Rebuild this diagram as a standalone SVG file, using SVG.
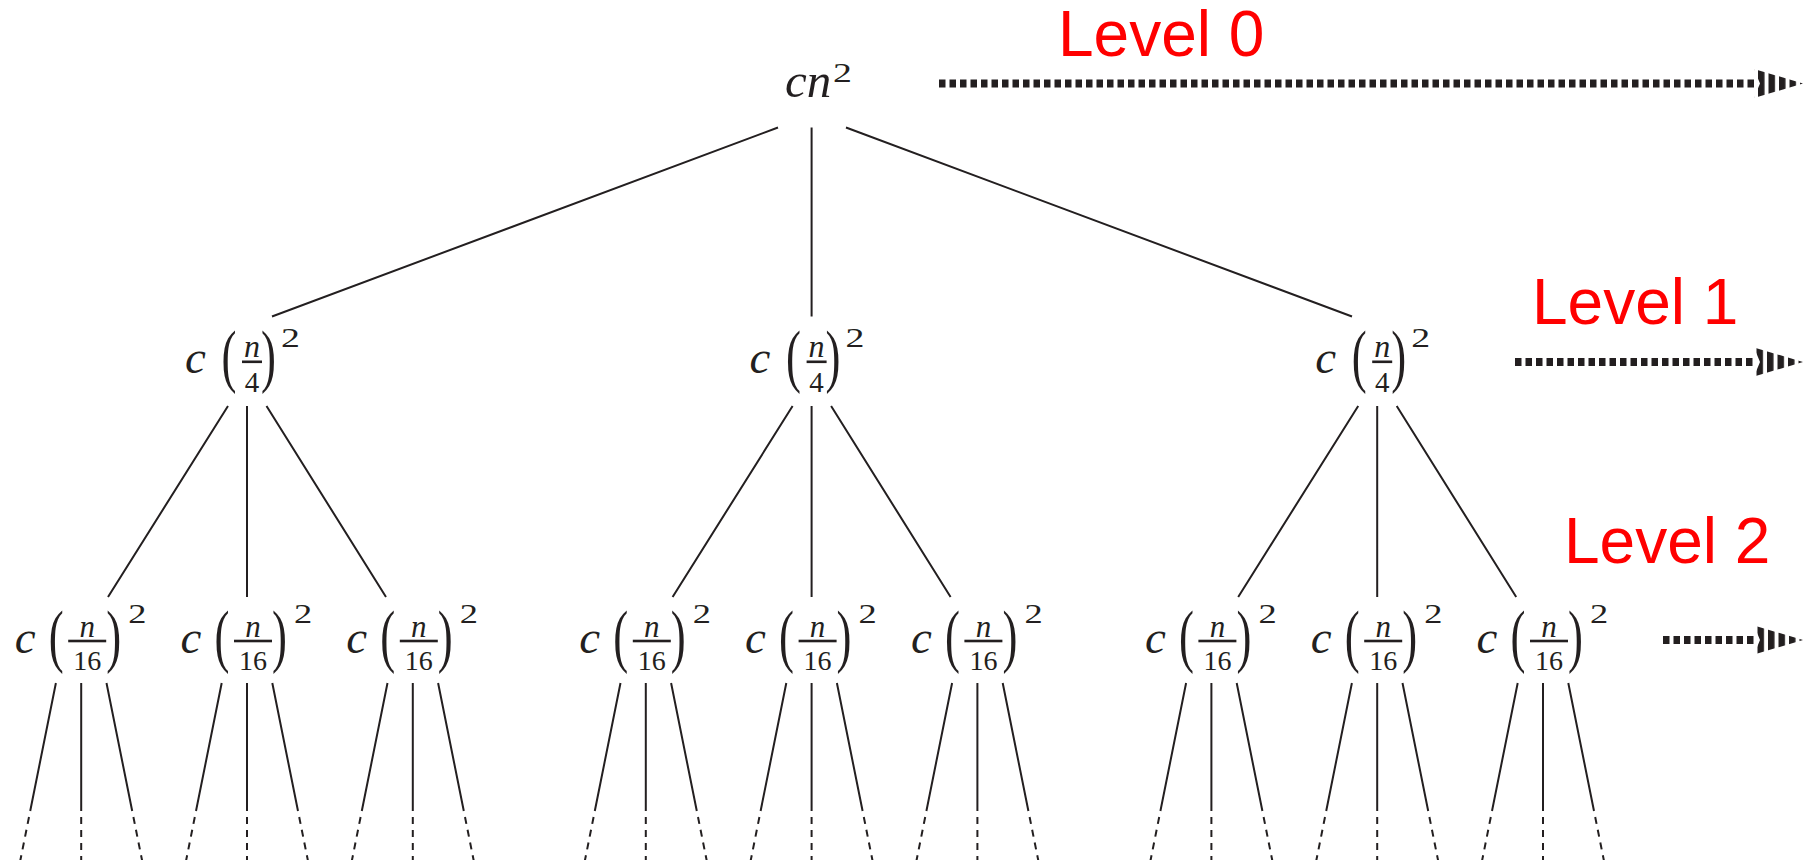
<svg xmlns="http://www.w3.org/2000/svg" width="1818" height="860" viewBox="0 0 1818 860">
<style>
.mi{font-family:"Liberation Serif","Times New Roman",serif;font-style:italic;fill:#231f20}
.mr{font-family:"Liberation Serif","Times New Roman",serif;fill:#231f20}
.lbl{font-family:"Liberation Sans",Arial,sans-serif;font-size:64px;fill:#ff0000}
.edge{stroke:#231f20;stroke-width:2;fill:none}
.dash{stroke:#231f20;stroke-width:2;fill:none;stroke-dasharray:7 6}
.arr{stroke:#231f20;stroke-width:8;fill:none;stroke-dasharray:6.5 4}
.bar{fill:#231f20}
.c{font-size:47px}
.p{font-size:69px}
.sup{font-size:28px}
</style>
<defs>
<pattern id="p0" patternUnits="userSpaceOnUse" x="939" y="0" width="10.5" height="20"><rect x="0" y="0" width="6.5" height="20" fill="#231f20"/></pattern>
<pattern id="p1" patternUnits="userSpaceOnUse" x="1515" y="0" width="10.5" height="20"><rect x="0" y="0" width="6.5" height="20" fill="#231f20"/></pattern>
<pattern id="p2" patternUnits="userSpaceOnUse" x="1663" y="0" width="10.5" height="20"><rect x="0" y="0" width="6.5" height="20" fill="#231f20"/></pattern>
<g id="leg">
<path class="edge" d="M-25.3 683 L-51 811 M0 683 L0 811 M25.3 683 L51 811"/>
<path class="dash" d="M-52.2 817 L-61.2 862 M0 817 L0 862 M52.2 817 L61.2 862"/>
</g>
</defs>

<g id="connectors">
<path class="edge" d="M778 127.5 L272 316.5 M811.6 127.5 L811.6 316.5 M846 127.5 L1352 316.5"/>
<path class="edge" d="M228 406 L108 597 M247 406 L247 597 M266.5 406 L386 597"/>
<path class="edge" d="M792.6 406 L672.6 597 M811.6 406 L811.6 597 M831.1 406 L950.6 597"/>
<path class="edge" d="M1358.2 406 L1238.2 597 M1377.2 406 L1377.2 597 M1396.7 406 L1516.2 597"/>
<use href="#leg" x="81.2"/>
<use href="#leg" x="247"/>
<use href="#leg" x="412.8"/>
<use href="#leg" x="645.8"/>
<use href="#leg" x="811.6"/>
<use href="#leg" x="977.4"/>
<use href="#leg" x="1211.4"/>
<use href="#leg" x="1377.2"/>
<use href="#leg" x="1543"/>
</g>

<g id="root">
<text class="mi" x="785" y="97" font-size="49">cn</text>
<text class="mr sup" transform="translate(833,82) scale(1.35,1)">2</text>
</g>

<g id="l1a" transform="translate(247,373)">
<text class="mi c" x="-62" y="0">c</text>
<text class="mr p" transform="translate(-25.5,6) scale(0.65,1)">(</text>
<text class="mr p" transform="translate(14,6) scale(0.65,1)">)</text>
<rect class="bar" x="-5" y="-12.5" width="20" height="2.6"/>
<text class="mi" x="5" y="-16" font-size="32" text-anchor="middle">n</text>
<text class="mr" x="5" y="19" font-size="29" text-anchor="middle">4</text>
<text class="mr sup" transform="translate(34,-26) scale(1.35,1)">2</text>
</g>
<g id="l1b" transform="translate(811.6,373)">
<text class="mi c" x="-62" y="0">c</text>
<text class="mr p" transform="translate(-25.5,6) scale(0.65,1)">(</text>
<text class="mr p" transform="translate(14,6) scale(0.65,1)">)</text>
<rect class="bar" x="-5" y="-12.5" width="20" height="2.6"/>
<text class="mi" x="5" y="-16" font-size="32" text-anchor="middle">n</text>
<text class="mr" x="5" y="19" font-size="29" text-anchor="middle">4</text>
<text class="mr sup" transform="translate(34,-26) scale(1.35,1)">2</text>
</g>
<g id="l1c" transform="translate(1377.2,373)">
<text class="mi c" x="-62" y="0">c</text>
<text class="mr p" transform="translate(-25.5,6) scale(0.65,1)">(</text>
<text class="mr p" transform="translate(14,6) scale(0.65,1)">)</text>
<rect class="bar" x="-5" y="-12.5" width="20" height="2.6"/>
<text class="mi" x="5" y="-16" font-size="32" text-anchor="middle">n</text>
<text class="mr" x="5" y="19" font-size="29" text-anchor="middle">4</text>
<text class="mr sup" transform="translate(34,-26) scale(1.35,1)">2</text>
</g>

<g id="l2a" transform="translate(81.2,653)">
<text class="mi c" x="-66.5" y="0">c</text>
<text class="mr p" transform="translate(-32.5,6) scale(0.65,1)">(</text>
<text class="mr p" transform="translate(25,6) scale(0.65,1)">)</text>
<rect class="bar" x="-13" y="-13.3" width="38" height="2.6"/>
<text class="mi" x="6" y="-16" font-size="31" text-anchor="middle">n</text>
<text class="mr" x="6" y="17" font-size="28" text-anchor="middle">16</text>
<text class="mr sup" transform="translate(47,-30) scale(1.3,1)">2</text>
</g>
<g id="l2b" transform="translate(247,653)">
<text class="mi c" x="-66.5" y="0">c</text>
<text class="mr p" transform="translate(-32.5,6) scale(0.65,1)">(</text>
<text class="mr p" transform="translate(25,6) scale(0.65,1)">)</text>
<rect class="bar" x="-13" y="-13.3" width="38" height="2.6"/>
<text class="mi" x="6" y="-16" font-size="31" text-anchor="middle">n</text>
<text class="mr" x="6" y="17" font-size="28" text-anchor="middle">16</text>
<text class="mr sup" transform="translate(47,-30) scale(1.3,1)">2</text>
</g>
<g id="l2c" transform="translate(412.8,653)">
<text class="mi c" x="-66.5" y="0">c</text>
<text class="mr p" transform="translate(-32.5,6) scale(0.65,1)">(</text>
<text class="mr p" transform="translate(25,6) scale(0.65,1)">)</text>
<rect class="bar" x="-13" y="-13.3" width="38" height="2.6"/>
<text class="mi" x="6" y="-16" font-size="31" text-anchor="middle">n</text>
<text class="mr" x="6" y="17" font-size="28" text-anchor="middle">16</text>
<text class="mr sup" transform="translate(47,-30) scale(1.3,1)">2</text>
</g>
<g id="l2d" transform="translate(645.8,653)">
<text class="mi c" x="-66.5" y="0">c</text>
<text class="mr p" transform="translate(-32.5,6) scale(0.65,1)">(</text>
<text class="mr p" transform="translate(25,6) scale(0.65,1)">)</text>
<rect class="bar" x="-13" y="-13.3" width="38" height="2.6"/>
<text class="mi" x="6" y="-16" font-size="31" text-anchor="middle">n</text>
<text class="mr" x="6" y="17" font-size="28" text-anchor="middle">16</text>
<text class="mr sup" transform="translate(47,-30) scale(1.3,1)">2</text>
</g>
<g id="l2e" transform="translate(811.6,653)">
<text class="mi c" x="-66.5" y="0">c</text>
<text class="mr p" transform="translate(-32.5,6) scale(0.65,1)">(</text>
<text class="mr p" transform="translate(25,6) scale(0.65,1)">)</text>
<rect class="bar" x="-13" y="-13.3" width="38" height="2.6"/>
<text class="mi" x="6" y="-16" font-size="31" text-anchor="middle">n</text>
<text class="mr" x="6" y="17" font-size="28" text-anchor="middle">16</text>
<text class="mr sup" transform="translate(47,-30) scale(1.3,1)">2</text>
</g>
<g id="l2f" transform="translate(977.4,653)">
<text class="mi c" x="-66.5" y="0">c</text>
<text class="mr p" transform="translate(-32.5,6) scale(0.65,1)">(</text>
<text class="mr p" transform="translate(25,6) scale(0.65,1)">)</text>
<rect class="bar" x="-13" y="-13.3" width="38" height="2.6"/>
<text class="mi" x="6" y="-16" font-size="31" text-anchor="middle">n</text>
<text class="mr" x="6" y="17" font-size="28" text-anchor="middle">16</text>
<text class="mr sup" transform="translate(47,-30) scale(1.3,1)">2</text>
</g>
<g id="l2g" transform="translate(1211.4,653)">
<text class="mi c" x="-66.5" y="0">c</text>
<text class="mr p" transform="translate(-32.5,6) scale(0.65,1)">(</text>
<text class="mr p" transform="translate(25,6) scale(0.65,1)">)</text>
<rect class="bar" x="-13" y="-13.3" width="38" height="2.6"/>
<text class="mi" x="6" y="-16" font-size="31" text-anchor="middle">n</text>
<text class="mr" x="6" y="17" font-size="28" text-anchor="middle">16</text>
<text class="mr sup" transform="translate(47,-30) scale(1.3,1)">2</text>
</g>
<g id="l2h" transform="translate(1377.2,653)">
<text class="mi c" x="-66.5" y="0">c</text>
<text class="mr p" transform="translate(-32.5,6) scale(0.65,1)">(</text>
<text class="mr p" transform="translate(25,6) scale(0.65,1)">)</text>
<rect class="bar" x="-13" y="-13.3" width="38" height="2.6"/>
<text class="mi" x="6" y="-16" font-size="31" text-anchor="middle">n</text>
<text class="mr" x="6" y="17" font-size="28" text-anchor="middle">16</text>
<text class="mr sup" transform="translate(47,-30) scale(1.3,1)">2</text>
</g>
<g id="l2i" transform="translate(1543,653)">
<text class="mi c" x="-66.5" y="0">c</text>
<text class="mr p" transform="translate(-32.5,6) scale(0.65,1)">(</text>
<text class="mr p" transform="translate(25,6) scale(0.65,1)">)</text>
<rect class="bar" x="-13" y="-13.3" width="38" height="2.6"/>
<text class="mi" x="6" y="-16" font-size="31" text-anchor="middle">n</text>
<text class="mr" x="6" y="17" font-size="28" text-anchor="middle">16</text>
<text class="mr sup" transform="translate(47,-30) scale(1.3,1)">2</text>
</g>

<g id="level0">
<text class="lbl" x="1058" y="56">Level 0</text>
<path class="arr" d="M939 83.5 L1755 83.5"/>
<polygon points="1754,69 1803,83.5 1754,98 1760,83.5" fill="url(#p0)"/>
</g>
<g id="level1">
<text class="lbl" x="1532" y="324">Level 1</text>
<path class="arr" d="M1515 362 L1755 362"/>
<polygon points="1754,347.5 1803,362 1754,376.5 1760,362" fill="url(#p1)"/>
</g>
<g id="level2">
<text class="lbl" x="1564" y="563">Level 2</text>
<path class="arr" d="M1663 640 L1755 640"/>
<polygon points="1754,625.5 1803,640 1754,654.5 1760,640" fill="url(#p2)"/>
</g>
</svg>
